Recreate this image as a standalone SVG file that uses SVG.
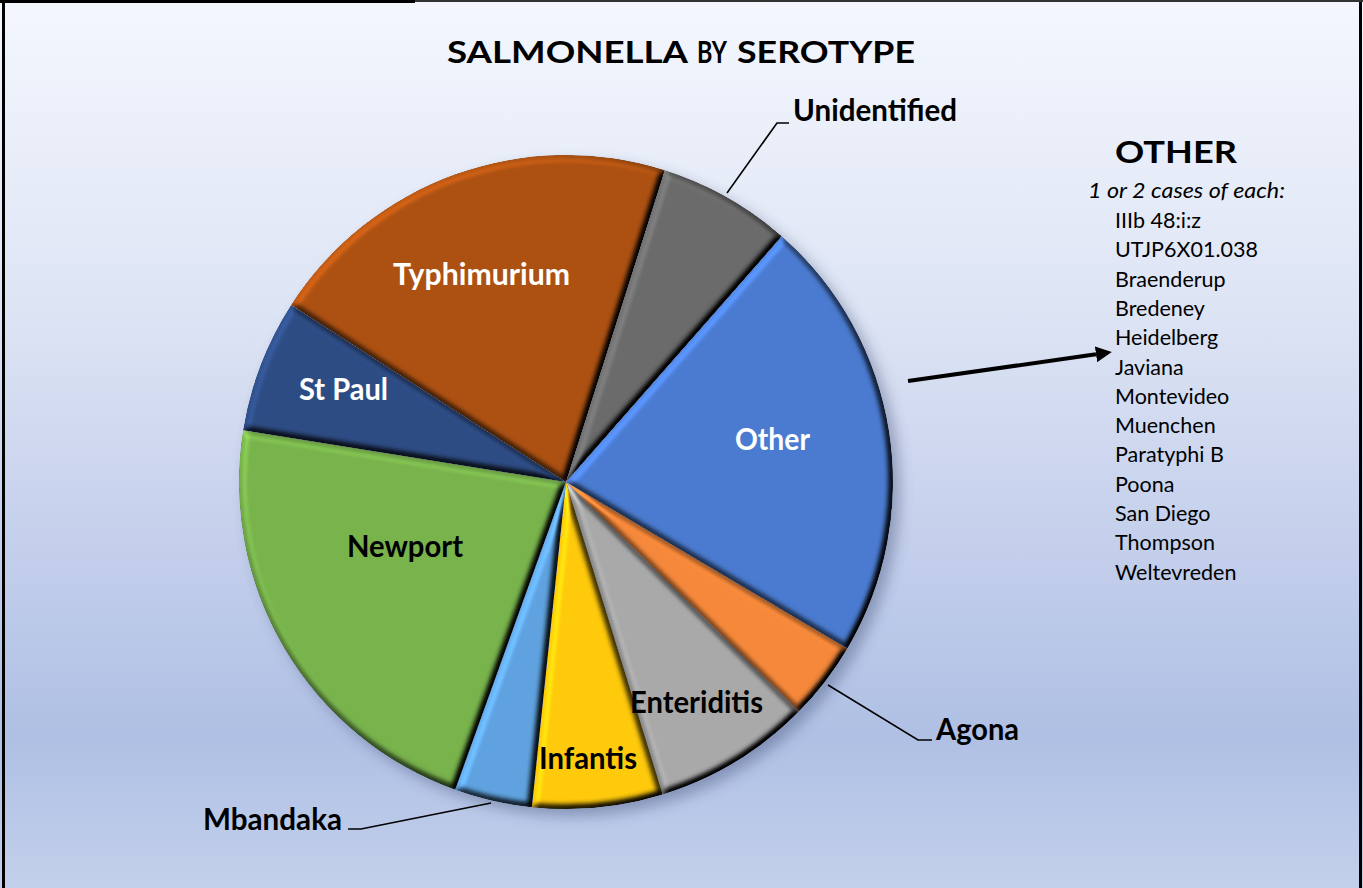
<svg xmlns="http://www.w3.org/2000/svg" width="1363" height="888" viewBox="0 0 1363 888">
  <defs>
    <linearGradient id="bg" x1="0" y1="0" x2="0" y2="1">
      <stop offset="0" stop-color="#f4f7fe"/>
      <stop offset="0.35" stop-color="#dde4f4"/>
      <stop offset="0.6" stop-color="#c5d0ec"/>
      <stop offset="0.83" stop-color="#afc0e4"/>
      <stop offset="1" stop-color="#c3d0eb"/>
    </linearGradient>
    <filter id="bevel" x="-10%" y="-10%" width="120%" height="120%" color-interpolation-filters="sRGB">
      <feGaussianBlur in="SourceAlpha" stdDeviation="3.5" result="b"/>
      <feDiffuseLighting in="b" surfaceScale="7" diffuseConstant="1" lighting-color="#ffffff" result="d">
        <feDistantLight azimuth="225" elevation="55"/>
      </feDiffuseLighting>
      <feComposite in="SourceGraphic" in2="d" operator="arithmetic" k1="1.22" k2="0" k3="0" k4="0" result="lit"/>
      <feComposite in="lit" in2="SourceAlpha" operator="in"/>
    </filter>
    <filter id="shadow" x="-20%" y="-20%" width="140%" height="140%">
      <feGaussianBlur stdDeviation="7"/>
    </filter>
    <marker id="arrow" markerUnits="strokeWidth" markerWidth="4" markerHeight="4" refX="0" refY="2" orient="auto">
      <path d="M0,0 L4,2 L0,4 Z" fill="#000"/>
    </marker>
  </defs>
  <style>
    .slice { filter: url(#bevel); }
    .lbl { font-family: Lato, "Liberation Sans", sans-serif; font-weight: bold; font-size: 30px; }
    .w { fill: #ffffff; }
    .k { fill: #000000; }
    .lead { fill: none; stroke: #000; stroke-width: 1.6; }
    .item { font-family: Lato, "Liberation Sans", sans-serif; font-size: 21.5px; fill: #000; }
  </style>

  <rect x="0" y="0" width="1363" height="888" fill="url(#bg)"/>
  <g id="frame">
    <line x1="3.5" y1="0" x2="3.5" y2="888" stroke="#000" stroke-width="3"/>
    <line x1="1360.5" y1="0" x2="1360.5" y2="888" stroke="#000" stroke-width="3"/>
    <line x1="0" y1="1.5" x2="415" y2="1.5" stroke="#000" stroke-width="3"/>
    <line x1="415" y1="1" x2="1363" y2="1" stroke="#333" stroke-width="2"/>
  </g>

  <g id="title">
    <text class="lbl k" x="447" y="63" font-size="41" textLength="241" lengthAdjust="spacingAndGlyphs">SALMONELLA</text>
    <text class="lbl k" x="697" y="63" font-size="23" textLength="30" lengthAdjust="spacingAndGlyphs">BY</text>
    <text class="lbl k" x="737" y="63" font-size="41" textLength="178" lengthAdjust="spacingAndGlyphs">SEROTYPE</text>
  </g>

  <circle cx="573" cy="489" r="327" fill="#2a3960" opacity="0.35" filter="url(#shadow)"/>

  <g id="pie">
    <g id="typhimurium">
      <path class="slice" d="M566,482 L291.1,304.9 A327,327 0 0 1 664.9,170.3 Z" fill="#ad5112"/>
      <text class="lbl w" x="393" y="285" textLength="177" lengthAdjust="spacingAndGlyphs">Typhimurium</text>
    </g>
    <g id="unidentified">
      <path class="slice" d="M566,482 L664.9,170.3 A327,327 0 0 1 781.8,236.3 Z" fill="#6b6b6b"/>
    </g>
    <g id="other">
      <path class="slice" d="M566,482 L781.8,236.3 A327,327 0 0 1 847.4,648.4 Z" fill="#4a7bd0"/>
      <text class="lbl w" x="735" y="450" textLength="75" lengthAdjust="spacingAndGlyphs">Other</text>
    </g>
    <g id="agona">
      <path class="slice" d="M566,482 L847.4,648.4 A327,327 0 0 1 798.8,711.6 Z" fill="#f5883a"/>
    </g>
    <g id="enteriditis">
      <path class="slice" d="M566,482 L798.8,711.6 A327,327 0 0 1 662.7,794.4 Z" fill="#a9a9a9"/>
    </g>
    <g id="infantis">
      <path class="slice" d="M566,482 L662.7,794.4 A327,327 0 0 1 531.8,807.2 Z" fill="#ffc90c"/>
    </g>
    <g id="mbandaka">
      <path class="slice" d="M566,482 L531.8,807.2 A327,327 0 0 1 455.2,789.7 Z" fill="#5fa2df"/>
    </g>
    <g id="newport">
      <path class="slice" d="M566,482 L455.2,789.7 A327,327 0 0 1 243.1,430.3 Z" fill="#78b34c"/>
      <text class="lbl k" x="347" y="557" textLength="116" lengthAdjust="spacingAndGlyphs">Newport</text>
    </g>
    <g id="stpaul">
      <path class="slice" d="M566,482 L243.1,430.3 A327,327 0 0 1 291.1,304.9 Z" fill="#2e4c84"/>
      <text class="lbl w" x="299" y="400" textLength="89" lengthAdjust="spacingAndGlyphs">St Paul</text>
    </g>
    <g id="labels-inner">
      <text class="lbl k" x="630" y="713" textLength="133" lengthAdjust="spacingAndGlyphs">Enteriditis</text>
      <text class="lbl k" x="539" y="769" textLength="98" lengthAdjust="spacingAndGlyphs">Infantis</text>
    </g>
  </g>

  <g id="outer-labels">
    <text class="lbl k" x="793" y="121" textLength="164" lengthAdjust="spacingAndGlyphs">Unidentified</text>
    <text class="lbl k" x="936" y="740" textLength="83" lengthAdjust="spacingAndGlyphs">Agona</text>
    <text class="lbl k" x="203" y="830" textLength="139" lengthAdjust="spacingAndGlyphs">Mbandaka</text>
  </g>

  <g id="connectors">
    <path class="lead" d="M727,193 L777,123 L789,123"/>
    <path class="lead" d="M828,685 L918,740 L932,740"/>
    <path class="lead" d="M491,803 L361,829 L348,829"/>
    <line x1="908" y1="381" x2="1096" y2="354.3" stroke="#000" stroke-width="4" marker-end="url(#arrow)"/>
  </g>

  <g id="other-list">
    <text class="lbl k" x="1115" y="163" font-size="40" textLength="122" lengthAdjust="spacingAndGlyphs">OTHER</text>
    <text x="1088" y="198" font-family="Lato, 'Liberation Sans', sans-serif" font-style="italic" font-size="21.5" fill="#000" textLength="197" lengthAdjust="spacingAndGlyphs">1 or 2 cases of each:</text>
    <text class="item" x="1115" y="228">IIIb 48:i:z</text>
    <text class="item" x="1115" y="257.3">UTJP6X01.038</text>
    <text class="item" x="1115" y="286.6">Braenderup</text>
    <text class="item" x="1115" y="315.9">Bredeney</text>
    <text class="item" x="1115" y="345.2">Heidelberg</text>
    <text class="item" x="1115" y="374.5">Javiana</text>
    <text class="item" x="1115" y="403.8">Montevideo</text>
    <text class="item" x="1115" y="433.1">Muenchen</text>
    <text class="item" x="1115" y="462.4">Paratyphi B</text>
    <text class="item" x="1115" y="491.7">Poona</text>
    <text class="item" x="1115" y="521">San Diego</text>
    <text class="item" x="1115" y="550.3">Thompson</text>
    <text class="item" x="1115" y="579.6">Weltevreden</text>
  </g>
</svg>
